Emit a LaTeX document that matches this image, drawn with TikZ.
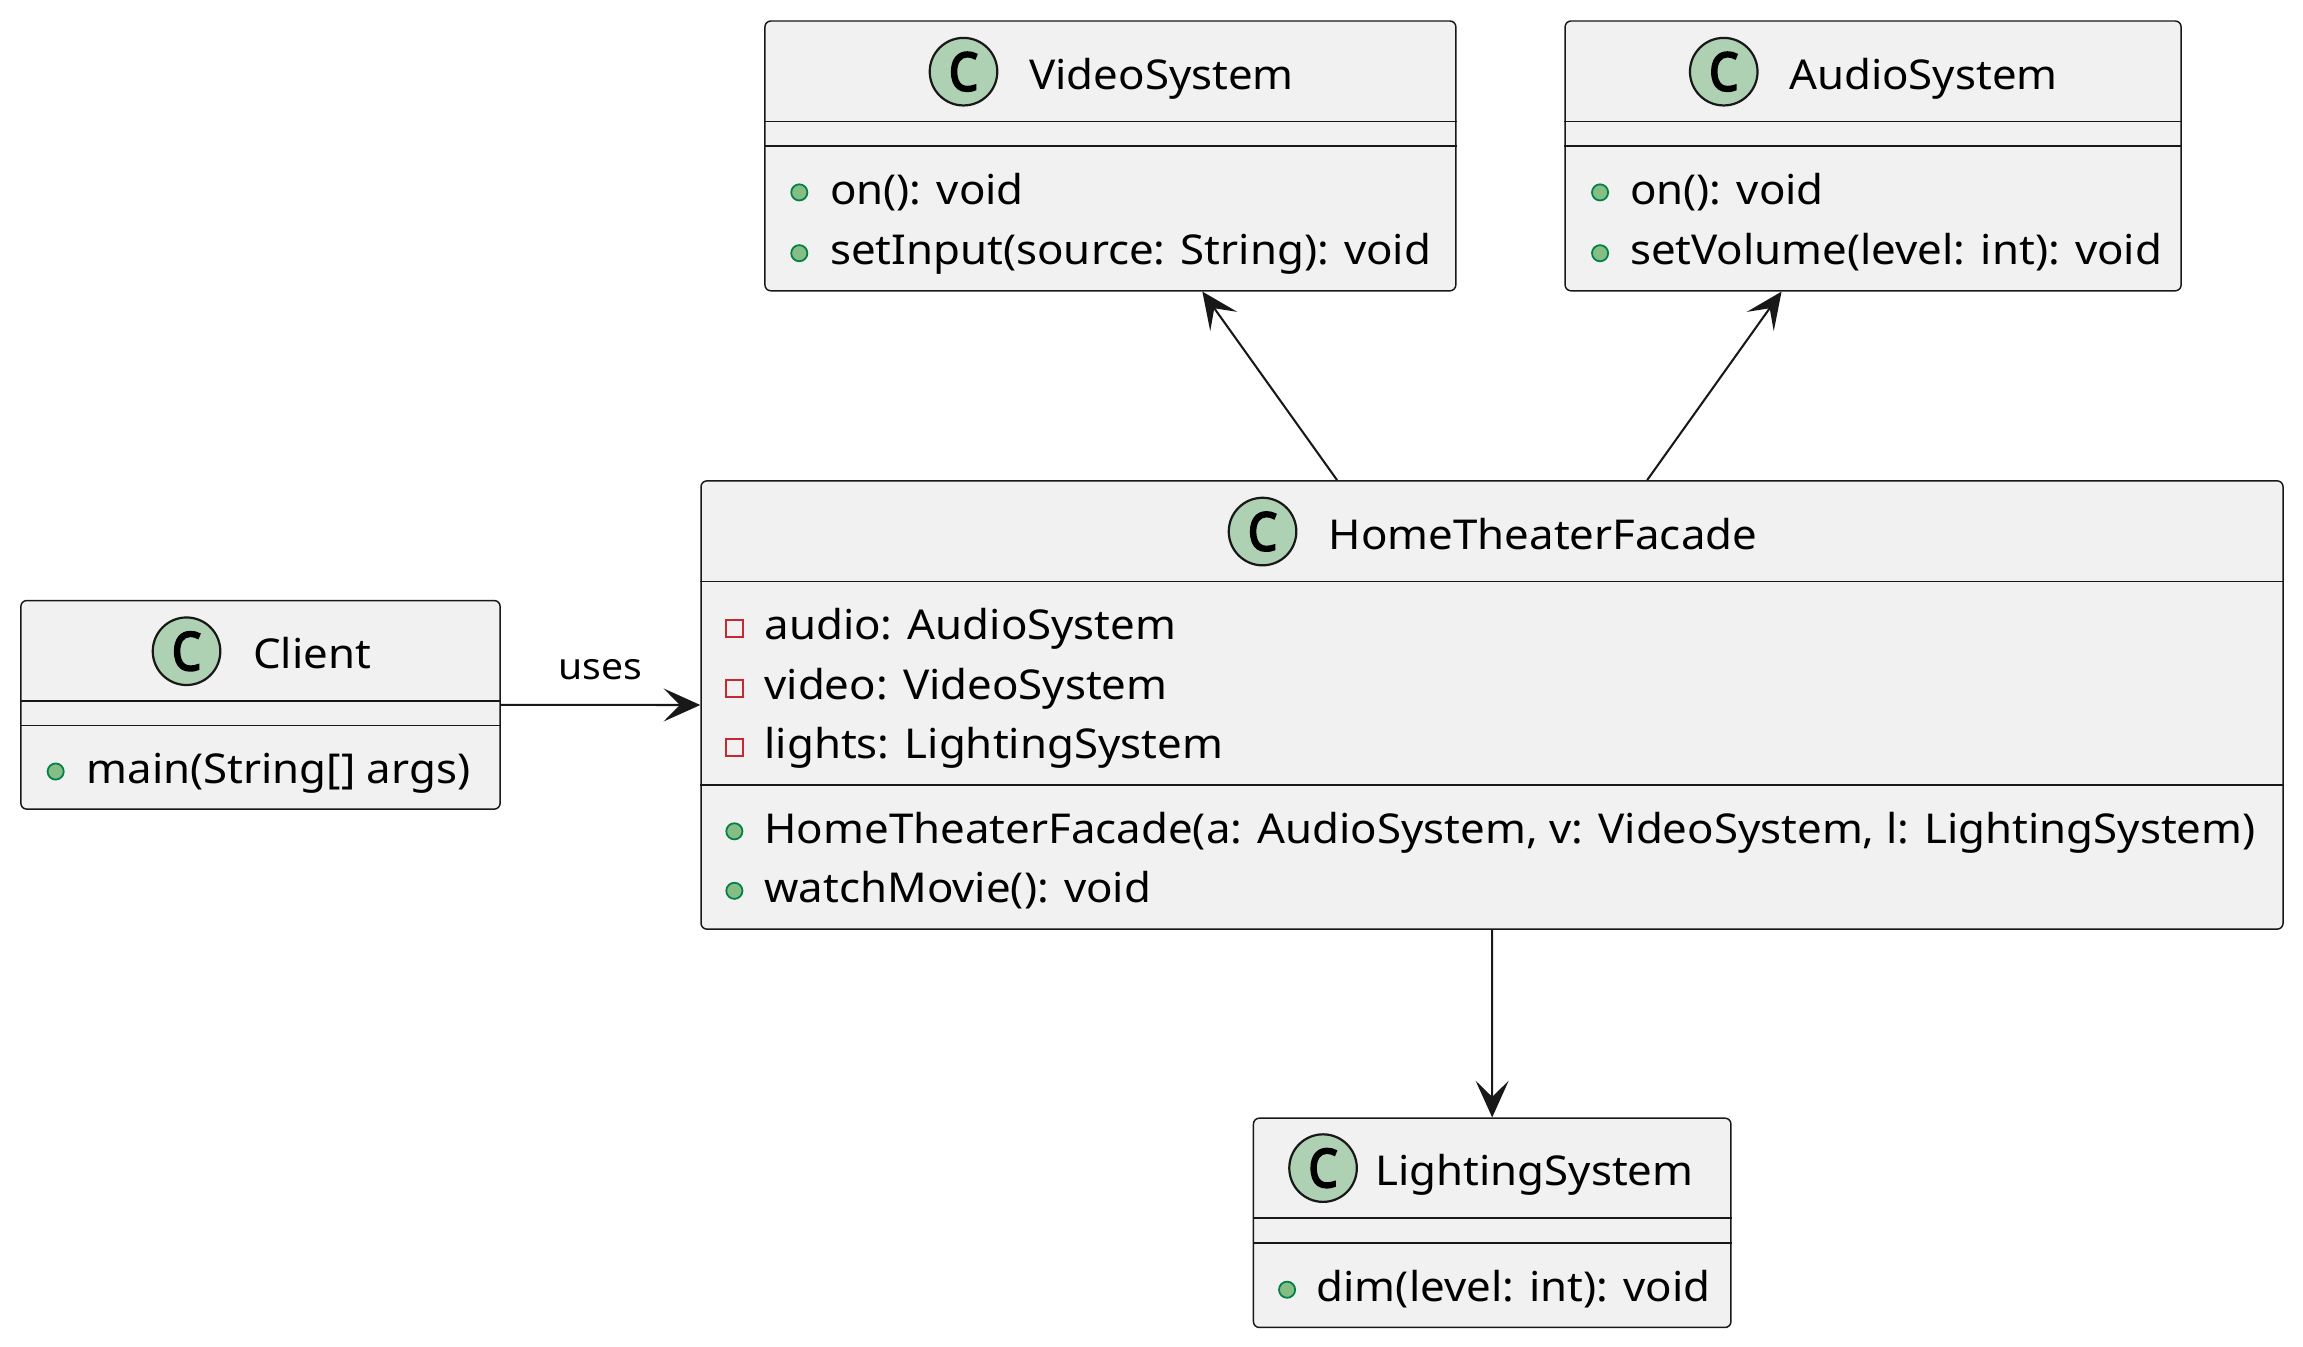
\documentclass[tikz,border=0pt]{standalone}
\usepackage{fontspec}
\setmainfont{Noto Sans}[FakeStretch=1.065]
\newfontfamily\iconfont{Noto Sans}[FakeStretch=0.86, FakeBold=4]
\usetikzlibrary{arrows.meta}
\definecolor{linecol}{HTML}{181818}
\definecolor{boxfill}{HTML}{F1F1F1}
\definecolor{iconfill}{HTML}{ADD1B2}
\definecolor{pubfill}{HTML}{84BE84}
\definecolor{pubdraw}{HTML}{038048}
\definecolor{privdraw}{HTML}{C82930}
\tikzset{
    classbox/.style={draw=linecol, fill=boxfill, line width=1pt, rounded corners=4pt, inner sep=0pt},
    sepline/.style={draw=linecol, line width=1pt},
    cicon/.style={circle, draw=linecol, fill=iconfill, line width=1.5pt, minimum size=46pt, inner sep=0pt, font=\iconfont\fontsize{36}{36}\selectfont},
    ctitle/.style={anchor=base west, inner sep=0pt, font=\fontsize{28}{28}\selectfont},
    member/.style={anchor=base west, inner sep=0pt, font=\fontsize{28}{28}\selectfont},
    pubdot/.style={circle, draw=pubdraw, fill=pubfill, line width=1.2pt, minimum size=11pt, inner sep=0pt},
    privsq/.style={rectangle, draw=privdraw, line width=1.3pt, minimum size=11.5pt, inner sep=0pt},
    conn/.style={draw=linecol, line width=1.4pt, -{Stealth[length=25pt, width=22.5pt, inset=11pt]}}
}
\begin{document}
\begin{tikzpicture}[x=1pt, y=-1pt]

            \useasboundingbox (0,0) rectangle (1568,917);

            \node[classbox, minimum width=470.4pt, minimum height=183.7pt] (video) at (756,106.15) {};
            \draw[sepline] (video.west |- 0,82.8) -- (video.east |- 0,82.8);
            \draw[sepline] (video.west |- 0,99.4) -- (video.east |- 0,99.4);
            \node[cicon] (videoC) at (656,48.8) {C};
            \node[ctitle] (videoT) at (700.6,60.8) {VideoSystem};
            \node[pubdot] (videoD1) at (544.2,131) {};
            \node[member] (videoM1) at (565,139) {on(): void};
            \node[pubdot] (videoD2) at (544.2,172.4) {};
            \node[member] (videoM2) at (565,180.4) {setInput(source: String): void};

            \node[classbox, minimum width=419.4pt, minimum height=183.7pt] (audio) at (1275.3,106.15) {};
            \draw[sepline] (audio.west |- 0,82.8) -- (audio.east |- 0,82.8);
            \draw[sepline] (audio.west |- 0,99.4) -- (audio.east |- 0,99.4);
            \node[cicon] (audioC) at (1173.6,48.8) {C};
            \node[ctitle] (audioT) at (1217.9,60.8) {AudioSystem};
            \node[pubdot] (audioD1) at (1089.4,131) {};
            \node[member] (audioM1) at (1109.6,139) {on(): void};
            \node[pubdot] (audioD2) at (1089.4,172.4) {};
            \node[member] (audioM2) at (1109.6,180.4) {setVolume(level: int): void};

            \node[classbox, minimum width=1077.1pt, minimum height=305.2pt] (facade) at (1015.85,480) {};
            \draw[sepline] (facade.west |- 0,396) -- (facade.east |- 0,396);
            \draw[sepline] (facade.west |- 0,534.4) -- (facade.east |- 0,534.4);
            \node[cicon] (facadeC) at (859.6,361.9) {C};
            \node[ctitle] (facadeT) at (904.5,373.9) {HomeTheaterFacade};
            \node[privsq] (facadeS1) at (500,428) {};
            \node[member] (facadeA1) at (520.3,435.7) {audio: AudioSystem};
            \node[privsq] (facadeS2) at (500,468.5) {};
            \node[member] (facadeA2) at (520.3,476.2) {video: VideoSystem};
            \node[privsq] (facadeS3) at (500,509) {};
            \node[member] (facadeA3) at (520.3,516.7) {lights: LightingSystem};
            \node[pubdot] (facadeD1) at (500,566) {};
            \node[member] (facadeM1) at (520.3,574) {HomeTheaterFacade(a: AudioSystem, v: VideoSystem, l: LightingSystem)};
            \node[pubdot] (facadeD2) at (500,606.5) {};
            \node[member] (facadeM2) at (520.3,614.5) {watchMovie(): void};

            \node[classbox, minimum width=326.3pt, minimum height=142pt] (client) at (177.35,479.9) {};
            \draw[sepline] (client.west |- 0,477.2) -- (client.east |- 0,477.2);
            \draw[sepline] (client.west |- 0,494) -- (client.east |- 0,494);
            \node[cicon] (clientC) at (127,443.4) {C};
            \node[ctitle] (clientT) at (172.2,455.4) {Client};
            \node[pubdot] (clientD1) at (37.9,525.3) {};
            \node[member] (clientM1) at (58.7,533.3) {main(String[] args)};

            \node[classbox, minimum width=325.1pt, minimum height=142.5pt] (light) at (1015.95,832.55) {};
            \draw[sepline] (light.west |- 0,829.4) -- (light.east |- 0,829.4);
            \draw[sepline] (light.west |- 0,846.4) -- (light.east |- 0,846.4);
            \node[cicon] (lightC) at (900.8,795.3) {C};
            \node[ctitle] (lightT) at (936.2,807.4) {LightingSystem};
            \node[pubdot] (lightD1) at (876.3,878.1) {};
            \node[member] (lightM1) at (896.3,886.1) {dim(level: int): void};

            \draw[conn] ([xshift=-105.5pt]facade.north) -- ([xshift=62.6pt]video.south);
            \draw[conn] ([xshift=105.6pt]facade.north) -- ([xshift=-62.3pt]audio.south);
            \draw[conn] (client.east) -- node[midway, anchor=base, yshift=17pt, inner sep=0pt, font=\fontsize{25}{25}\selectfont] (usesL) {uses} (facade.west);
            \draw[conn] (facade.south) -- (light.north);

        \end{tikzpicture}
\end{document}
